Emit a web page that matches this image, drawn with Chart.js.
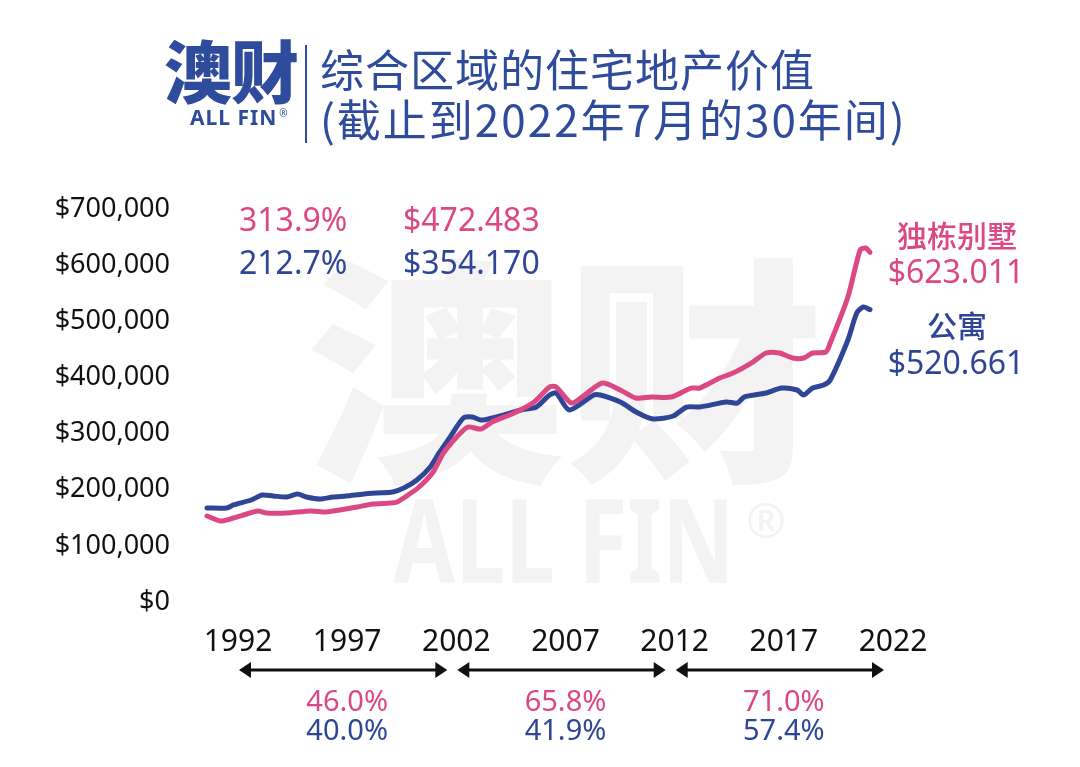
<!DOCTYPE html>
<html>
<head>
<meta charset="utf-8">
<script src="https://cdn.jsdelivr.net/npm/chart.js@4"></script>
<style>
  html, body { margin: 0; padding: 0; background: #fff; }
  #wrap { position: relative; width: 1080px; height: 767px; overflow: hidden; }
  #chart { position: absolute; left: 0; top: 0; }
  .hdr { position: absolute; color: #2f4b9c; font-family: "Noto Sans CJK SC", "Noto Sans", sans-serif; }
  #logo { left: 164px; top: 26px; font-size: 68px; font-weight: 900; letter-spacing: -1px; line-height: 86px; }
  #logoSub { left: 190px; top: 103px; font-family: "Noto Sans", sans-serif; font-size: 21px; font-weight: 700; letter-spacing: 1px; }
  #logoSub sup { font-size: 10px; font-weight: 400; margin-left: 2px; }
  #divider { left: 305px; top: 45px; width: 2px; height: 98px; background: #2f4b9c; }
  #title { left: 320px; top: 43px; font-size: 44px; line-height: 50px; font-weight: 400; }
  #title .l1 { letter-spacing: 1px; }
  #title .l2 { letter-spacing: 2px; }
</style>
</head>
<body>
<div id="wrap">
  <canvas id="chart" width="1080" height="767"></canvas>
  <div class="hdr" id="logo">澳财</div>
  <div class="hdr" id="logoSub">ALL FIN<sup>®</sup></div>
  <div class="hdr" id="divider"></div>
  <div class="hdr" id="title"><span class="l1">综合区域的住宅地产价值</span><br><span class="l2">(截止到2022年7月的30年间)</span></div>
</div>
<script>
// tick labels
const yearTicks = [1992, 1997, 2002, 2007, 2012, 2017, 2022];

// 独栋别墅 (houses)
const houseYears = [1992.5, 1993.1, 1993.7, 1994.3, 1994.8, 1995.2, 1996.1, 1997.2, 1997.9, 1998.5,
  1999.3, 2000.0, 2000.8, 2001.1, 2001.6, 2002.1, 2002.7, 2003.2, 2003.8, 2004.3,
  2004.9, 2005.4, 2006.4, 2007.3, 2008.0, 2008.3, 2009.0, 2009.7, 2010.4, 2011.2,
  2011.9, 2012.6, 2013.5, 2014.4, 2014.8, 2015.7, 2016.3, 2017.2, 2017.8, 2018.4,
  2019.0, 2019.5, 2019.9, 2020.5, 2020.7, 2021.5, 2022.05, 2022.3, 2022.5];
const houseValues = [153200, 144300, 149600, 156700, 162100, 158500, 158500, 162100, 160300, 163900,
  169200, 174500, 176300, 178100, 190600, 204800, 229700, 265400, 293900, 311700,
  308100, 320600, 336600, 356200, 382900, 382900, 354400, 372200, 390000, 377600,
  363300, 365100, 365100, 381100, 381100, 398900, 407800, 427400, 443500, 443500,
  434600, 434600, 443500, 445300, 461300, 543200, 626900, 630500, 623011];

// 公寓 (units)
const unitYears = [1992.5, 1993.4, 1993.7, 1994.5, 1995.0, 1995.5, 1996.1, 1996.6, 1997.0, 1997.6,
  1998.2, 1998.8, 1999.6, 2000.2, 2000.9, 2001.4, 2002.0, 2002.6, 2003.0, 2003.5,
  2004.1, 2004.5, 2004.9, 2005.4, 2005.9, 2006.7, 2007.4, 2008.0, 2008.3, 2008.9,
  2010.0, 2010.3, 2011.2, 2012.0, 2012.7, 2013.6, 2014.2, 2014.8, 2016.0, 2016.5,
  2016.8, 2017.8, 2018.5, 2019.2, 2019.5, 2019.9, 2020.4, 2020.7, 2021.5, 2021.9,
  2022.2, 2022.5];
const unitValues = [167400, 167400, 172800, 181700, 190600, 188800, 187000, 192300, 187000, 183400,
  187000, 188800, 192300, 194100, 195900, 203000, 217300, 240400, 265400, 293900,
  327700, 329500, 324100, 327700, 333000, 342000, 347300, 368700, 372200, 342000,
  368700, 368700, 356200, 336600, 325900, 331300, 347300, 347300, 356200, 354400,
  365100, 372200, 381100, 377600, 368700, 381100, 386500, 395400, 466600, 514700,
  525400, 520661];

// annotations
const houseName = '独栋别墅', houseEnd = '$623.011';
const unitName = '公寓', unitEnd = '$520.661';
const houseTop = ['313.9%', '$472.483'];
const unitTop = ['212.7%', '$354.170'];
const periods = [[1992, 2002], [2002, 2012], [2012, 2022]];
const houseGrowth = ['46.0%', '65.8%', '71.0%'];
const unitGrowth = ['40.0%', '41.9%', '57.4%'];

const PINK = '#dc4883';
const NAVY = '#2f4697';
const toPoints = (xs, ys) => xs.map((x, i) => ({ x: x, y: ys[i] }));

const overlay = {
  id: 'overlay',
  beforeDatasetsDraw(chart) {
    const ctx = chart.ctx;
    ctx.save();
    ctx.fillStyle = '#f3f3f3';
    ctx.textAlign = 'center';
    ctx.textBaseline = 'middle';
    ctx.save();
    ctx.translate(565, 372);
    ctx.scale(1.08, 1);
    ctx.font = '900 240px "Noto Sans CJK SC"';
    ctx.fillText('澳财', 0, 0);
    ctx.restore();
    ctx.save();
    ctx.translate(564, 550);
    ctx.scale(0.77, 1);
    ctx.font = '700 116px "Noto Sans", sans-serif';
    ctx.fillText('ALL FIN', 0, 0);
    ctx.restore();
    ctx.font = '400 48px "Noto Sans", sans-serif';
    ctx.fillText('®', 766, 524);
    ctx.restore();
  },
  afterDraw(chart) {
    const ctx = chart.ctx;
    const xs = chart.scales.x2;
    const area = chart.chartArea;
    ctx.save();
    ctx.textBaseline = 'middle';

    // top annotations
    ctx.font = '32px "Noto Sans", sans-serif';
    ctx.textAlign = 'left';
    ctx.fillStyle = PINK;
    ctx.fillText(houseTop[0], 239, 222);
    ctx.fillText(houseTop[1], 403, 222);
    ctx.fillStyle = NAVY;
    ctx.fillText(unitTop[0], 239, 265);
    ctx.fillText(unitTop[1], 403, 265);

    // end labels
    ctx.textAlign = 'center';
    ctx.fillStyle = PINK;
    ctx.font = '500 30px "Noto Sans CJK SC"';
    ctx.fillText(houseName, 957, 236);
    ctx.font = '32px "Noto Sans", sans-serif';
    ctx.fillText(houseEnd, 956, 274);
    ctx.fillStyle = NAVY;
    ctx.font = '500 30px "Noto Sans CJK SC"';
    ctx.fillText(unitName, 957, 326);
    ctx.font = '32px "Noto Sans", sans-serif';
    ctx.fillText(unitEnd, 956, 365);

    // period arrows
    const ay = area.bottom + 68;
    ctx.strokeStyle = '#111';
    ctx.fillStyle = '#111';
    ctx.lineWidth = 3;
    periods.forEach((p, i) => {
      const x0 = xs.getPixelForValue(p[0]) + 1;
      const x1 = xs.getPixelForValue(p[1]) - 9;
      ctx.beginPath();
      ctx.moveTo(x0 + 6, ay);
      ctx.lineTo(x1 - 6, ay);
      ctx.stroke();
      ctx.beginPath();
      ctx.moveTo(x0, ay);
      ctx.lineTo(x0 + 12, ay - 8);
      ctx.lineTo(x0 + 12, ay + 8);
      ctx.closePath();
      ctx.fill();
      ctx.beginPath();
      ctx.moveTo(x1, ay);
      ctx.lineTo(x1 - 12, ay - 8);
      ctx.lineTo(x1 - 12, ay + 8);
      ctx.closePath();
      ctx.fill();

      const mid = xs.getPixelForValue((p[0] + p[1]) / 2);
      ctx.font = '29px "Noto Sans", sans-serif';
      ctx.fillStyle = PINK;
      ctx.fillText(houseGrowth[i], mid, ay + 33);
      ctx.fillStyle = NAVY;
      ctx.fillText(unitGrowth[i], mid, ay + 62);
      ctx.fillStyle = '#111';
    });
    ctx.restore();
  }
};

new Chart(document.getElementById('chart'), {
  type: 'line',
  data: {
    datasets: [
      {
        label: houseName,
        data: toPoints(houseYears, houseValues),
        borderColor: PINK,
        borderWidth: 5,
        pointRadius: 0,
        tension: 0.25,
        borderCapStyle: 'round',
        borderJoinStyle: 'round',
        clip: false,
        xAxisID: 'x',
        yAxisID: 'y'
      },
      {
        label: unitName,
        data: toPoints(unitYears, unitValues),
        borderColor: NAVY,
        borderWidth: 5,
        pointRadius: 0,
        tension: 0.25,
        borderCapStyle: 'round',
        borderJoinStyle: 'round',
        clip: false,
        xAxisID: 'x',
        yAxisID: 'y'
      }
    ]
  },
  options: {
    responsive: false,
    animation: false,
    devicePixelRatio: 1,
    layout: { padding: { top: 209, right: 187, bottom: 0, left: 0 } },
    plugins: { legend: { display: false }, tooltip: { enabled: false } },
    scales: {
      x: {
        type: 'linear',
        display: false,
        min: 1992.5,
        max: 2023.54
      },
      x2: {
        type: 'linear',
        position: 'bottom',
        min: 1990.58,
        max: 2022,
        grid: { display: false },
        border: { display: false },
        afterBuildTicks: (axis) => { axis.ticks = yearTicks.map(v => ({ value: v })); },
        afterFit: (axis) => { axis.height = 165; },
        ticks: {
          autoSkip: false,
          maxRotation: 0,
          padding: 14,
          color: '#111',
          font: { family: '"Noto Sans", sans-serif', size: 30 },
          callback: (v) => String(v)
        }
      },
      y: {
        min: 0,
        max: 700000,
        grid: { display: false },
        border: { display: false },
        afterFit: (axis) => { axis.width = 207; },
        ticks: {
          stepSize: 100000,
          padding: 29,
          color: '#111',
          font: { family: '"Noto Sans", sans-serif', size: 27 },
          callback: (v) => '$' + v.toLocaleString('en-US')
        }
      }
    }
  },
  plugins: [overlay]
});
</script>
</body>
</html>
